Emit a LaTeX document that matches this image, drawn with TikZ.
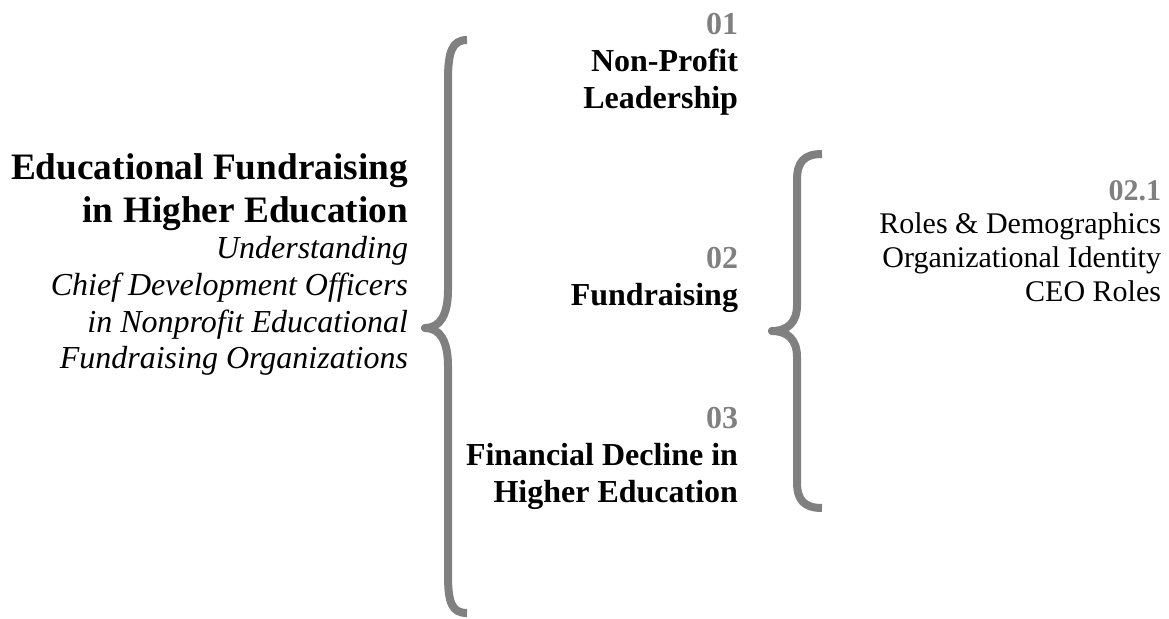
\documentclass[tikz,border=0pt]{standalone}
\usepackage{fontspec}
\setmainfont{Liberation Serif}
\definecolor{bracegray}{HTML}{808080}
\begin{document}
\begin{tikzpicture}[x=1pt,y=-1pt,
  every node/.style={inner sep=0pt,outer sep=0pt,anchor=base east},
  titletext/.style={font=\fontsize{37.3}{43}\selectfont\bfseries},
  subtext/.style={font=\fontsize{32}{37}\selectfont\itshape},
  numtext/.style={font=\fontsize{32}{37}\selectfont\bfseries,text=bracegray},
  headtext/.style={font=\fontsize{32}{37}\selectfont\bfseries},
  smallnum/.style={font=\fontsize{30}{35}\selectfont\bfseries,text=bracegray},
  itemtext/.style={font=\fontsize{30}{35}\selectfont},
  bracestroke/.style={draw=bracegray,line width=8pt,line cap=butt,line join=round}]
\useasboundingbox (0,0) rectangle (1169,618);

% main topic
\node[titletext] (t1) at (408,179) {Educational Fundraising};
\node[titletext] (t2) at (408,222) {in Higher Education};
\node[subtext] (s1) at (408,258) {Understanding};
\node[subtext] (s2) at (408,295) {Chief Development Officers};
\node[subtext] (s3) at (408,332) {in Nonprofit Educational};
\node[subtext] (s4) at (408,368) {Fundraising Organizations};

% first-level branches
\node[numtext] (n1) at (738,35) {01};
\node[headtext] (h1a) at (738,71) {Non-Profit};
\node[headtext] (h1b) at (738,108) {Leadership};
\node[numtext] (n2) at (738,268) {02};
\node[headtext] (h2) at (738,305) {Fundraising};
\node[numtext] (n3) at (738,428) {03};
\node[headtext] (h3a) at (738,465) {Financial Decline in};
\node[headtext] (h3b) at (738,502) {Higher Education};

% second-level branch
\node[smallnum] (n21) at (1161,200) {02.1};
\node[itemtext] (i1) at (1161,233) {Roles \& Demographics};
\node[itemtext] (i2) at (1161,267) {Organizational Identity};
\node[itemtext] (i3) at (1161,301) {CEO Roles};

% braces: rounded tip, flat ends
\draw[bracestroke] (467,40) .. controls (452,40) and (448,52) .. (448,80)
  -- (448,290) .. controls (448,315) and (440,328) .. (425,328)
  .. controls (440,328) and (448,341) .. (448,366)
  -- (448,575) .. controls (448,603) and (452,613) .. (467,613);
\draw[bracestroke] (822,154) .. controls (804,154) and (797,162) .. (797,180)
  -- (797,305) .. controls (797,322) and (788,331) .. (772,331)
  .. controls (788,331) and (797,340) .. (797,357)
  -- (797,482) .. controls (797,500) and (804,508) .. (822,508);
\fill[bracegray] (425,328) circle (4pt) (772,331) circle (4pt);
\end{tikzpicture}
\end{document}
